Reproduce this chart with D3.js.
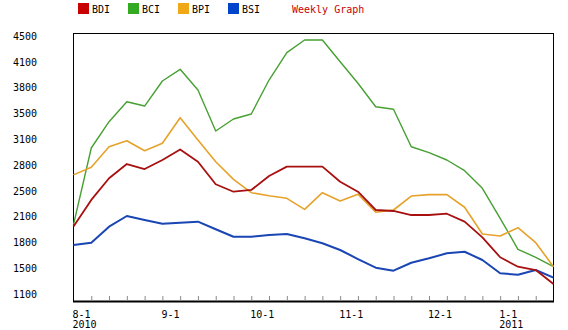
<!DOCTYPE html>
<html><head><meta charset="utf-8">
<script src="https://cdn.jsdelivr.net/npm/d3@7"></script>
<style>
html,body{margin:0;padding:0;background:#fff;}
svg{display:block;}
text{font-family:"DejaVu Sans Mono",monospace;font-size:10px;}
</style></head>
<body>
<svg id="c" width="568" height="330"></svg>
<script>
const weeks = d3.range(28);
const BDI = [1990,2340,2625,2813,2747,2866,3005,2843,2546,2448,2471,2655,2778,2778,2778,2580,2448,2207,2194,2141,2141,2158,2053,1847,1584,1460,1416,1232];
const BCI = [2015,3024,3371,3634,3577,3907,4061,3788,3248,3406,3472,3920,4280,4447,4447,4161,3877,3568,3534,3041,2962,2866,2725,2493,2098,1689,1584,1460];
const BPI = [2670,2770,3041,3120,2988,3086,3423,3129,2843,2611,2435,2395,2361,2216,2435,2326,2414,2177,2207,2391,2409,2409,2243,1891,1864,1974,1776,1460];
const BSI = [1746,1776,1987,2128,2075,2026,2040,2053,1953,1855,1855,1878,1891,1834,1768,1680,1561,1447,1407,1512,1570,1636,1657,1548,1373,1354,1416,1315];
const seriesNames = ["BDI","BCI","BPI","BSI"];
const seriesColors = ["#a81010","#46a032","#e6a22a","#1a46b4"];
const legendColors = ["#c80000","#33aa22","#f0a818","#0044cc"];
const yTickValues = d3.range(11).map(i => 1100 + i * 340);
const yTickLabels = ["1100","1500","1800","2100","2500","2800","3100","3500","3800","4100","4500"];
const monthIdx = [0,5,10,15,20,24];
const monthLabels = ["8-1","9-1","10-1","11-1","12-1","1-1"];
const yearLabels = ["2010","","","","","2011"];
const minorTicks = d3.range(1,27);

const svg = d3.select("#c");
const x = d3.scaleLinear().domain([0,27]).range([73.5,553.5]);
const y = d3.scaleLinear().domain([1100,4500]).range([294,36]);

// frame
svg.append("rect").attr("x",73.5).attr("y",33.5).attr("width",480).attr("height",268)
  .attr("fill","none").attr("stroke","#000").attr("stroke-width",1);
svg.append("line").attr("x1",73).attr("x2",554).attr("y1",301.5).attr("y2",301.5).attr("stroke","#000").attr("stroke-width",2);

// minor ticks
const xAxis = d3.axisBottom(x).tickValues(minorTicks).tickSize(-5).tickFormat("");
const gx = svg.append("g").attr("transform","translate(0,301)").call(xAxis);
gx.select(".domain").remove();
gx.selectAll(".tick line").attr("stroke","#888").attr("stroke-width",1);

// month labels
const ml = svg.append("g");
monthIdx.forEach((m,i)=>{
  ml.append("text").attr("x",x(m)-1).attr("y",318).attr("fill","#000").text(monthLabels[i]);
  if (yearLabels[i]) ml.append("text").attr("x",x(m)-1).attr("y",328).attr("fill","#000").text(yearLabels[i]);
});

// y labels
const yAxis = d3.axisLeft(y).tickValues(yTickValues).tickSize(0).tickPadding(0)
  .tickFormat((d,i)=>yTickLabels[i]);
const gy = svg.append("g").attr("transform","translate(37,0)").call(yAxis);
gy.select(".domain").remove();
gy.selectAll("text").attr("fill","#000").style("font-family","'DejaVu Sans Mono',monospace").style("font-size","10px");

// lines
const allSeries = [BDI,BCI,BPI,BSI];
const line = d3.line().x((d,i)=>x(weeks[i])).y(d=>y(d));
const drawOrder = [3,1,2,0];
const widths = [1.8,1.4,1.6,2];
drawOrder.forEach(k=>{
  svg.append("path").datum(allSeries[k]).attr("d",line).attr("fill","none")
    .attr("stroke",seriesColors[k]).attr("stroke-width",widths[k]).attr("stroke-linejoin","round");
});

// legend
const lg = svg.append("g");
seriesNames.forEach((n,i)=>{
  const lx = 78 + i*50;
  lg.append("rect").attr("x",lx).attr("y",3).attr("width",11).attr("height",11).attr("fill",legendColors[i]);
  lg.append("text").attr("x",lx+14).attr("y",12.5).attr("fill","#000").text(n);
});
lg.append("text").attr("x",292).attr("y",12.5).attr("fill","#cc0000").text("Weekly Graph");
</script>
</body></html>
